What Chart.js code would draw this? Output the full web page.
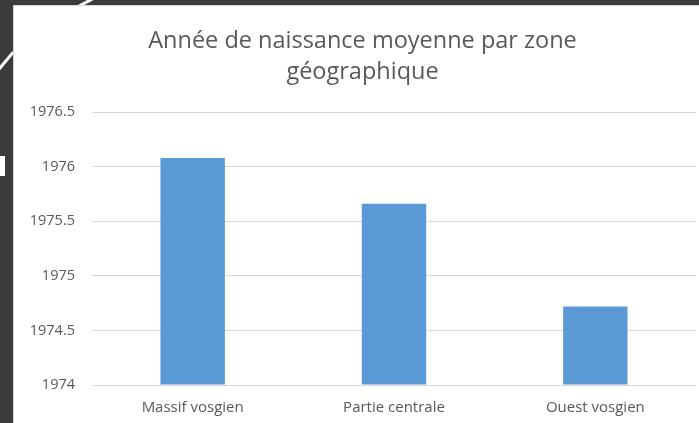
<!DOCTYPE html>
<html>
<head>
<meta charset="utf-8">
<script src="https://cdn.jsdelivr.net/npm/chart.js@4/dist/chart.umd.min.js"></script>
<style>
  html, body { margin: 0; padding: 0; }
  body { width: 699px; height: 423px; overflow: hidden; background: #3b3b3b; position: relative; }
  .trait { position: absolute; background: #fff; height: 3px; transform-origin: 0 0; }
  #panneau {
    position: absolute; left: 13px; top: 5px; width: 704px; height: 450px;
    background: #fff; border: 1px solid #d9d9d9; box-sizing: border-box;
  }
  #panneau canvas { display: block; }
</style>
</head>
<body>
<div class="trait" style="left:76px; top:6px; width:22px; transform: rotate(-28deg);"></div>
<div class="trait" style="left:-2px; top:68px; width:22px; transform: rotate(-50deg);"></div>
<div class="trait" style="left:0px; top:156px; width:5px; height:20px;"></div>
<div id="panneau"><canvas id="graphiqueZones" width="682" height="433"></canvas></div>
<script>
const zones = ["Massif vosgien", "Partie centrale", "Ouest vosgien"];
const anneesMoyennes = [1976.08, 1975.66, 1974.72];
const graduations = [1974, 1974.5, 1975, 1975.5, 1976, 1976.5];

const ctx = document.getElementById("graphiqueZones").getContext("2d");
const police = "'Open Sans', 'Liberation Sans', sans-serif";

new Chart(ctx, {
    type: "bar",
    data: {
        labels: zones,
        datasets: [{
            data: anneesMoyennes,
            backgroundColor: "#5b9bd5",
            borderWidth: 0,
            barPercentage: 0.4,
            categoryPercentage: 0.8,
            base: 1974
        }]
    },
    options: {
        responsive: false,
        animation: false,
        layout: { padding: { left: 15, right: 0, top: 14, bottom: 8 } },
        plugins: {
            legend: { display: false },
            tooltip: { enabled: false },
            title: {
                display: true,
                text: ["Année de naissance moyenne par zone", "géographique"],
                color: "#595959",
                font: { family: police, size: 23.5, weight: "normal", lineHeight: 1.32 },
                padding: { top: 6, bottom: 24 }
            }
        },
        scales: {
            x: {
                grid: { display: false, drawTicks: false },
                border: { color: "#d9d9d9", width: 1 },
                ticks: { color: "#595959", font: { family: police, size: 15 }, padding: 14 }
            },
            y: {
                min: 1974,
                max: 1976.5,
                afterBuildTicks: axe => { axe.ticks = graduations.map(v => ({ value: v })); },
                afterFit: axe => { axe.width = 63; },
                grid: { color: "#d9d9d9", lineWidth: 1, drawTicks: false },
                border: { display: false },
                ticks: {
                    color: "#595959",
                    font: { family: police, size: 14.5 },
                    padding: 17,
                    callback: v => String(v)
                }
            }
        }
    }
});
</script>
</body>
</html>
